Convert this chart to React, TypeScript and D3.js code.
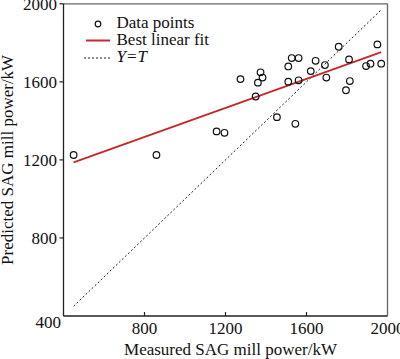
import React from "react";
import * as d3 from "d3";

const measured = [450, 859, 1156, 1195, 1274, 1349, 1360, 1373, 1383, 1454, 1545, 1510, 1527, 1561, 1510, 1561, 1621, 1645, 1691, 1698, 1759, 1810, 1814, 1795, 1894, 1916, 1950, 1969];
const predicted = [1225, 1225, 1346, 1339, 1614, 1525, 1596, 1649, 1622, 1419, 1385, 1679, 1722, 1722, 1601, 1608, 1655, 1708, 1686, 1622, 1780, 1715, 1604, 1557, 1681, 1693, 1792, 1693];
const fitSlope = 0.372;
const fitIntercept = 1020;
const xTicks = [800, 1200, 1600, 2000];
const yTicks = [800, 1200, 1600, 2000];
const legendLabels = ["Data points", "Best linear fit", "Y=T"];

const W = 400;
const H = 359;
const FONT = "'Liberation Serif', 'Times New Roman', serif";

export default function App() {
  const x = d3.scaleLinear().domain([400, 2000]).range([63.5, 387.5]);
  const y = d3.scaleLinear().domain([400, 2000]).range([316, 3.8]);
  const [xmin, xmax] = d3.extent(measured) as [number, number];
  const fitLine = d3.line<number>().x((d) => x(d)).y((d) => y(fitSlope * d + fitIntercept));
  const idLine = d3.line<number>().x((d) => x(d)).y((d) => y(d));

  return (
    <svg width={W} height={H} style={{ position: "absolute", left: 0, top: 0, background: "#fff" }} fontFamily={FONT}>
      <rect x={0} y={0} width={W} height={H} fill="#fff" />
      {/* frame */}
      <line x1={x(400)} x2={x(2000)} y1={y(2000)} y2={y(2000)} stroke="#666" strokeWidth={1.3} />
      <line x1={x(2000)} x2={x(2000)} y1={y(2000)} y2={y(400)} stroke="#666" strokeWidth={1.3} />
      <line x1={x(400)} x2={x(400)} y1={y(2000)} y2={y(400)} stroke="#222" strokeWidth={1.3} />
      <line x1={x(400)} x2={x(2000)} y1={y(400)} y2={y(400)} stroke="#222" strokeWidth={1.3} />
      {/* y ticks */}
      {yTicks.map((t) => (
        <g key={"y" + t}>
          <line x1={x(400) - 4} x2={x(400)} y1={y(t)} y2={y(t)} stroke="#222" strokeWidth={1.2} />
          <text x={x(400) - 6.5} y={y(t)} dy="0.35em" textAnchor="end" fontSize={17} fill="#111">{t}</text>
        </g>
      ))}
      <text x={x(400) - 2.5} y={y(400) + 6.5} dy="0.35em" textAnchor="end" fontSize={17} fill="#111">400</text>
      {/* x ticks */}
      {xTicks.map((t) => (
        <g key={"x" + t}>
          {t < 2000 && <line x1={x(t)} x2={x(t)} y1={y(400)} y2={y(400) - 4} stroke="#222" strokeWidth={1.2} />}
          <text x={x(t)} y={y(400) + 12.5} dy="0.35em" textAnchor="middle" fontSize={17} fill="#111">{t}</text>
        </g>
      ))}
      {/* axis titles */}
      <text x={(x(400) + x(2000)) / 2 + 5} y={355} textAnchor="middle" fontSize={17} fill="#111">Measured SAG mill power/kW</text>
      <text transform={`translate(13,${(y(400) + y(2000)) / 2}) rotate(-90)`} textAnchor="middle" fontSize={17} fill="#111">Predicted SAG mill power/kW</text>
      {/* Y=T */}
      <path d={idLine([xmin, xmax]) || ""} fill="none" stroke="#222" strokeWidth={1} strokeDasharray="2,2.2" />
      {/* fit */}
      <path d={fitLine([xmin, xmax]) || ""} fill="none" stroke="#c42a2a" strokeWidth={2} />
      {/* points */}
      {measured.map((m, i) => (
        <circle key={i} cx={x(m)} cy={y(predicted[i])} r={3.3} fill="none" stroke="#111" strokeWidth={1.2} />
      ))}
      {/* legend */}
      <g>
        <circle cx={98} cy={24} r={2.8} fill="none" stroke="#111" strokeWidth={1.2} />
        <text x={116.5} y={27.5} fontSize={17} fill="#111">{legendLabels[0]}</text>
        <line x1={86} x2={110} y1={40.5} y2={40.5} stroke="#c42a2a" strokeWidth={2} />
        <text x={116.5} y={44.5} fontSize={17} fill="#111">{legendLabels[1]}</text>
        <line x1={84} x2={110} y1={58} y2={58} stroke="#222" strokeWidth={1} strokeDasharray="2,2" />
        <text x={116.5} y={61.5} fontSize={17} fill="#111" fontStyle="italic">{legendLabels[2]}</text>
      </g>
    </svg>
  );
}
